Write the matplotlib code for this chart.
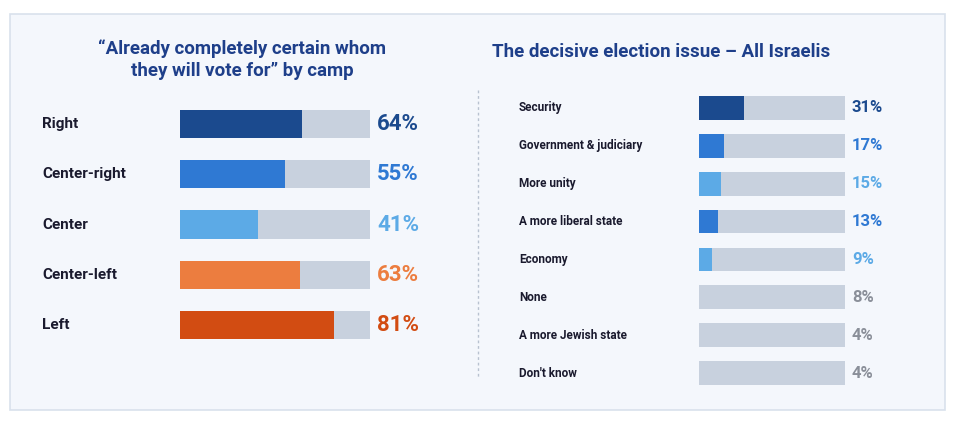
import matplotlib
matplotlib.use("Agg")
import matplotlib.pyplot as plt
import matplotlib.transforms as mt
from matplotlib.patches import Rectangle

camps = ["Right", "Center-right", "Center", "Center-left", "Left"]
camp_vals = [64, 55, 41, 63, 81]
camp_colors = ["#1b4a8e", "#2f79d3", "#5caae6", "#ec7d3f", "#d24c12"]

issues = ["Security", "Government & judiciary", "More unity", "A more liberal state",
          "Economy", "None", "A more Jewish state", "Don't know"]
issue_vals = [31, 17, 15, 13, 9, 8, 4, 4]
issue_colors = ["#1b4a8e", "#2f79d3", "#5caae6", "#2f79d3", "#5caae6", "#c8d1de", "#c8d1de", "#c8d1de"]
issue_text_colors = ["#1b4a8e", "#2f79d3", "#5caae6", "#2f79d3", "#5caae6", "#8a8f99", "#8a8f99", "#8a8f99"]

W, H = 954, 423
fig = plt.figure(figsize=(W/100, H/100), dpi=100)
fig.patch.set_facecolor("white")
plt.rcParams['font.family'] = ['Roboto', 'DejaVu Sans']
fig.patches.append(Rectangle((10/W, 1-410/H), 935/W, 396/H, transform=fig.transFigure,
                             facecolor="#f4f7fc", edgecolor="#d9e1ec", lw=1.2, zorder=-5))
fig.add_artist(plt.Line2D([478/W, 478/W], [1-90/H, 1-378/H], transform=fig.transFigure,
                          color="#b8c2d0", lw=1, ls=(0, (2, 2))))

track = "#c8d1de"
title_c = "#1e3f8a"

def panel(x0, x1, ytop_c, ybot_c, n, hfrac, labels, vals, cols, tcols, lab_x, pct_x, lab_fs, pct_fs):
    sp = (ybot_c - ytop_c) / (n - 1)
    top = ytop_c - sp/2
    bot = ybot_c + sp/2
    ax = fig.add_axes([x0/W, 1-bot/H, (x1-x0)/W, (bot-top)/H])
    ax.set_zorder(2)
    ax.patch.set_alpha(0)
    ax.set_xlim(0, 100)
    ax.set_ylim(n-0.5, -0.5)
    ax.axis("off")
    ys = list(range(n))
    ax.barh(ys, [100]*n, height=hfrac, color=track)
    ax.barh(ys, vals, height=hfrac, color=cols)
    tr = mt.blended_transform_factory(fig.transFigure, ax.transData)
    for y, l, v, tc in zip(ys, labels, vals, tcols):
        ax.text(lab_x/W, y, l, transform=tr, ha="left", va="center", fontsize=lab_fs,
                fontweight="bold", color="#1a1a2e", clip_on=False)
        ax.text(pct_x/W, y, f"{v}%", transform=tr, ha="left", va="center", fontsize=pct_fs,
                fontweight="bold", color=tc, clip_on=False)

panel(180, 370, 124, 325, 5, 0.56, camps, camp_vals, camp_colors, camp_colors, 42, 377, 11, 16)
panel(699, 845, 108, 373, 8, 0.63, issues, issue_vals, issue_colors, issue_text_colors, 519, 852, 8.5, 12)

fig.text(242/W, 1-60/H, "“Already completely certain whom\nthey will vote for” by camp",
         ha="center", va="center", fontsize=13.5, fontweight="bold", color=title_c, linespacing=1.3)
fig.text(492/W, 1-52/H, "The decisive election issue – All Israelis", ha="left", va="center",
         fontsize=13.5, fontweight="bold", color=title_c)

fig.savefig("out.png", dpi=100)
